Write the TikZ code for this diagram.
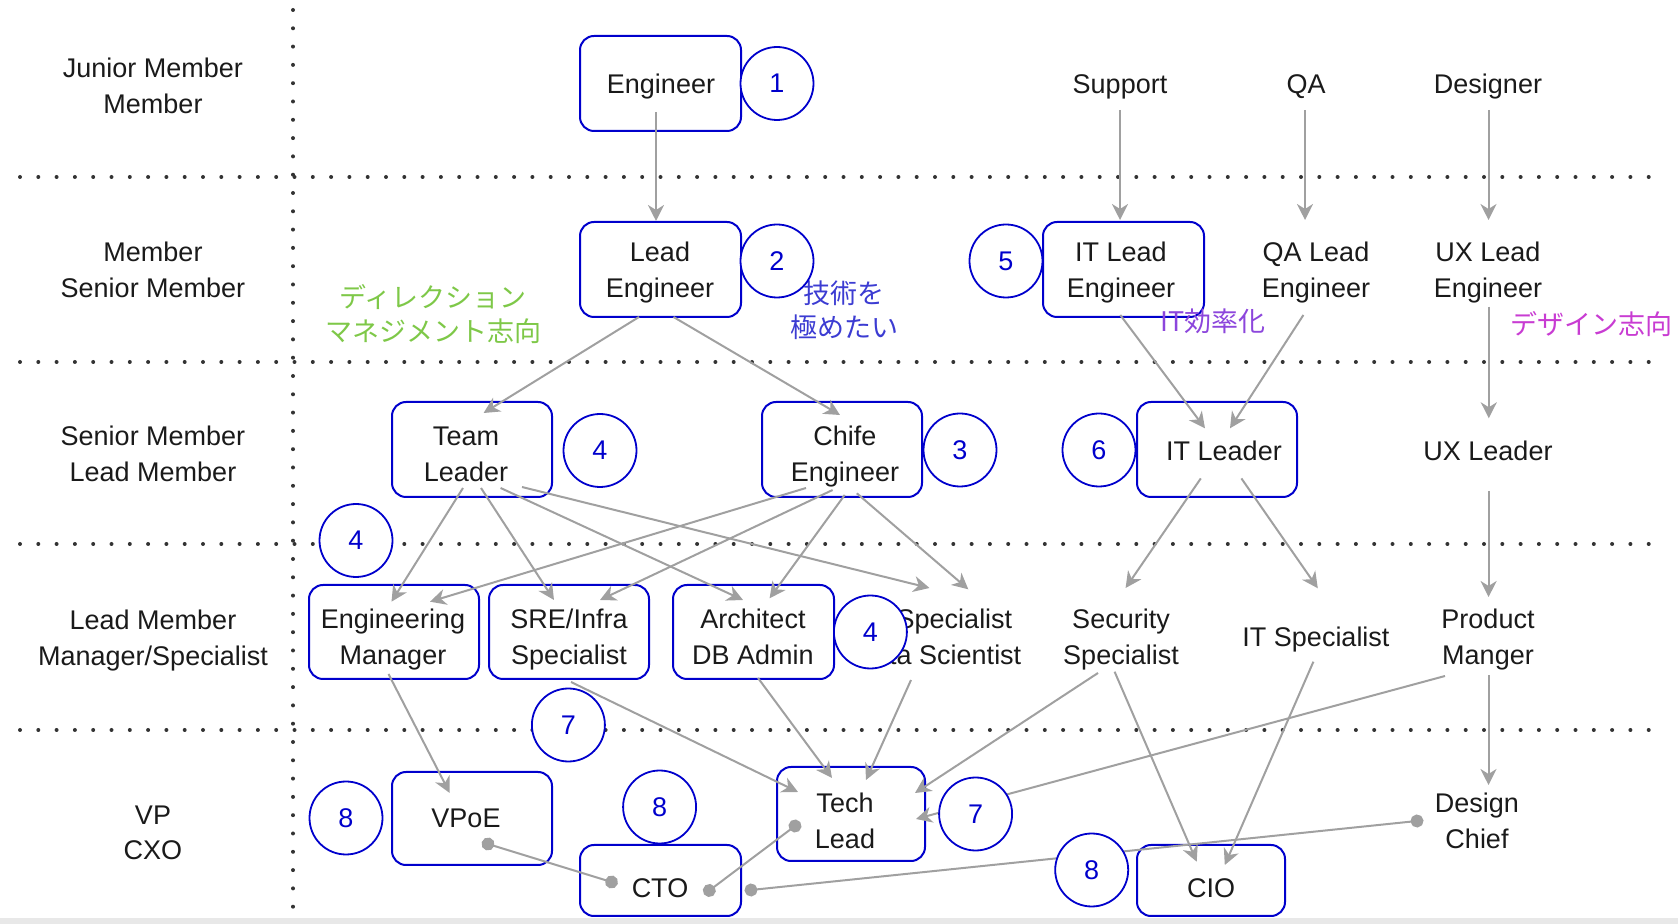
\documentclass[tikz,border=0pt]{standalone}
\usepackage{fontspec}
\setmainfont{Liberation Sans}
\newfontfamily\jp{Noto Sans CJK JP}
\usetikzlibrary{arrows.meta,calc}
\definecolor{boxblue}{RGB}{0,0,204}
\definecolor{arrgray}{RGB}{160,160,160}
\definecolor{dotgray}{RGB}{51,51,51}
\definecolor{jgreen}{RGB}{126,200,72}
\definecolor{jblue}{RGB}{60,60,210}
\definecolor{jpurple}{RGB}{140,70,220}
\definecolor{jmagenta}{RGB}{200,60,210}
\definecolor{txt}{RGB}{26,26,26}
\definecolor{band}{RGB}{232,232,232}
\newcommand{\lblstrut}{\rule[-3.2pt]{0pt}{16pt}}
\begin{document}
\begin{tikzpicture}[x=0.5pt,y=-0.5pt,
  lbl/.style={align=center,inner sep=0pt,font=\fontsize{13.5pt}{17.6pt}\selectfont,text=txt,
    execute at begin node={\lblstrut},execute at end node={\lblstrut}},
  lbltwo/.style={lbl,execute at begin node={}},
  jtext/.style={align=center,inner sep=0pt,font=\jp\fontsize{13.5pt}{17pt}\selectfont},
  bluebox/.style={rectangle,draw=boxblue,line width=1pt,rounded corners=7pt,inner sep=0pt,outer sep=0pt},
  num/.style={circle,draw=boxblue,fill=white,line width=0.9pt,minimum size=36.5pt,inner sep=0pt,text=boxblue,font=\fontsize{13.5pt}{17pt}\selectfont},
  arr/.style={draw=arrgray,line width=1pt,-{Stealth[length=8pt,width=8pt,inset=2.5pt]}},
  dotline/.style={draw=arrgray,line width=1pt,{Circle[length=6.5pt]}-{Circle[length=6.5pt]},shorten <=-3.25pt,shorten >=-3.25pt},
  sepline/.style={draw=dotgray,line width=2pt,line cap=round,dash pattern=on 0pt off 9.15pt}]
\useasboundingbox (0,0) rectangle (1678,924);
\fill[band] (0,918) rectangle (1678,924);
% separators
\draw[sepline] (20,177) -- (1660,177);
\draw[sepline] (20,362) -- (1660,362);
\draw[sepline] (20,544) -- (1660,544);
\draw[sepline] (20,730) -- (1660,730);
\draw[sepline] (293,10) -- (293,913);
% row labels
\node[lbltwo] (r1) at (153,86) {\lblstrut Junior Member\\Member};
\node[lbltwo] (r2) at (153,270) {\lblstrut Member\\Senior Member};
\node[lbltwo] (r3) at (153,454) {\lblstrut Senior Member\\Lead Member};
\node[lbltwo] (r4) at (153,638) {\lblstrut Lead Member\\Manager/Specialist};
\node[lbltwo] (r5) at (153,832) {\lblstrut VP\\CXO};
% blue boxes
\node[bluebox,minimum width=80.5pt,minimum height=47.5pt] (bEng) at (660.5,83.5) {};
\node[bluebox,minimum width=80.5pt,minimum height=47.5pt] (bLeng) at (660.5,269.5) {};
\node[bluebox,minimum width=80pt,minimum height=47.5pt] (bTl) at (472,449.5) {};
\node[bluebox,minimum width=80pt,minimum height=47.5pt] (bCe) at (842,449.5) {};
\node[bluebox,minimum width=85pt,minimum height=47pt] (bEm) at (394,632) {};
\node[bluebox,minimum width=80pt,minimum height=47pt] (bSre) at (569,632) {};
\node[bluebox,minimum width=80.5pt,minimum height=47pt] (bArch) at (753.5,632) {};
\node[bluebox,minimum width=80.5pt,minimum height=47.5pt] (bItle) at (1123.5,269.5) {};
\node[bluebox,minimum width=80pt,minimum height=47.5pt] (bItl) at (1217,449.5) {};
\node[bluebox,minimum width=80pt,minimum height=46.5pt] (bVpoe) at (472,818.5) {};
\node[bluebox,minimum width=80.5pt,minimum height=35.5pt] (bCto) at (660.5,880.5) {};
\node[bluebox,minimum width=74pt,minimum height=47pt] (bTech) at (851,814) {};
\node[bluebox,minimum width=74pt,minimum height=35.5pt] (bCio) at (1211,880.5) {};
% text nodes
\node[lbl] (eng) at (661,84) {Engineer};
\node[lbltwo] (leng) at (660,270) {\lblstrut Lead\\Engineer};
\node[lbltwo] (tl) at (466,454) {\lblstrut Team\\Leader};
\node[lbltwo] (ce) at (845,454) {\lblstrut Chife\\Engineer};
\node[lbltwo] (em) at (393,637) {\lblstrut Engineering\\Manager};
\node[lbltwo] (sre) at (569,637) {\lblstrut SRE/Infra\\Specialist};
\node[lbltwo] (arch) at (753,637) {\lblstrut Architect\\DB Admin};
\node[lbltwo] (spec) at (938,637) {\lblstrut AI Specialist\\Data Scientist};
\node[lbltwo] (sec) at (1121,637) {\lblstrut Security\\Specialist};
\node[lbl] (itspec) at (1316,637) {IT Specialist};
\node[lbltwo] (pm) at (1488,637) {\lblstrut Product\\Manger};
\node[lbl] (sup) at (1120,84) {Support};
\node[lbl] (qa) at (1306,84) {QA};
\node[lbl] (des) at (1488,84) {Designer};
\node[lbltwo] (itle) at (1121,270) {\lblstrut IT Lead\\Engineer};
\node[lbltwo] (qale) at (1316,270) {\lblstrut QA Lead\\Engineer};
\node[lbltwo] (uxle) at (1488,270) {\lblstrut UX Lead\\Engineer};
\node[lbl] (itl) at (1224,451) {IT Leader};
\node[lbl] (uxl) at (1488,451) {UX Leader};
\node[lbl] (vpoe) at (466,818) {VPoE};
\node[lbl] (cto) at (660,888) {CTO};
\node[lbltwo] (tech) at (845,821) {\lblstrut Tech\\Lead};
\node[lbltwo] (dc) at (1477,821) {\lblstrut Design\\Chief};
\node[lbl] (cio) at (1211,888) {CIO};
% japanese notes
\node[jtext,text=jgreen] (jdir) at (433,314.5) {ディレクション\\マネジメント志向};
\node[jtext,text=jblue] (jtech) at (844,310) {技術を\\極めたい};
\node[jtext,text=jpurple] (jit) at (1213,321) {IT効率化};
\node[jtext,text=jmagenta] (jdes) at (1591,324) {デザイン志向};
% arrows
\draw[arr] ($(eng)+(-5,28)$) -- ($(leng)+(-4,-49)$);
\draw[arr] ($(leng)+(-21,47)$) -- ($(tl)+(17.6,-41)$);
\draw[arr] ($(leng)+(13.5,47)$) -- ($(ce)+(-5,-39)$);
\draw[arr] ($(tl)+(-3,34)$) -- ($(em)+(-1.5,-35.3)$);
\draw[arr] ($(tl)+(15,34)$) -- ($(sre)+(-15,-37)$);
\draw[arr] ($(tl)+(34.6,34)$) -- ($(arch)+(-10,-37)$);
\draw[arr] ($(tl)+(56,33)$) -- ($(spec)+(-8.5,-49)$);
\draw[arr] ($(ce)+(-39,34)$) -- ($(em)+(37,-35.3)$);
\draw[arr] ($(ce)+(-12.4,36)$) -- ($(sre)+(31,-37)$);
\draw[arr] ($(ce)+(-0.3,41)$) -- ($(arch)+(16.6,-38.7)$);
\draw[arr] ($(ce)+(11.8,39.3)$) -- ($(spec)+(30.3,-47.7)$);
\draw[arr] ($(em)+(-4.5,37)$) -- ($(vpoe)+(-16.3,-25)$);
\draw[arr] ($(sre)+(2,45)$) -- ($(tech)+(-47,-29)$);
\draw[arr] ($(arch)+(5,41)$) -- ($(tech)+(-13,-43)$);
\draw[arr] ($(spec)+(-27,43)$) -- ($(tech)+(21,-41)$);
\draw[arr] ($(sec)+(-23,36)$) -- ($(tech)+(70,-28)$);
\draw[arr] ($(pm)+(-43,39)$) -- ($(tech)+(71,-2)$);
\draw[arr] ($(sec)+(-6.4,34.7)$) -- ($(cio)+(-14.3,-26.3)$);
\draw[arr] ($(itspec)+(-2.6,24.7)$) -- ($(cio)+(13.8,-23)$);
\draw[arr] ($(pm)+(0.5,38)$) -- ($(dc)+(11.5,-36)$);
\draw[arr] ($(sup)+(0,26)$) -- ($(itle)+(-1,-50)$);
\draw[arr] ($(qa)+(-1,26)$) -- ($(qale)+(-11,-50)$);
\draw[arr] ($(des)+(0.5,26)$) -- ($(uxle)+(0.5,-50)$);
\draw[arr] ($(itle)+(-0.7,45)$) -- ($(itl)+(-19,-22.7)$);
\draw[arr] ($(qale)+(-12.6,45)$) -- ($(itl)+(6,-22.7)$);
\draw[arr] ($(uxle)+(0.8,36.7)$) -- ($(uxl)+(0.8,-32.7)$);
\draw[arr] ($(itl)+(-23.2,27.4)$) -- ($(sec)+(4.6,-49)$);
\draw[arr] ($(itl)+(17.4,27.4)$) -- ($(itspec)+(1.8,-48.7)$);
\draw[arr] ($(uxl)+(0.6,40)$) -- ($(pm)+(0.6,-40)$);
% dot-ended lines
\draw[dotline] ($(vpoe)+(22,26)$) -- ($(cto)+(-48.5,-6)$);
\draw[dotline] ($(tech)+(-50,5)$) -- ($(cto)+(49.3,2.5)$);
\draw[dotline] ($(dc)+(-60,0)$) -- ($(cto)+(91,2)$);
% numbered circles
\node[num] (c1) at (777,83.5) {1};
\node[num] (c2) at (777,261) {2};
\node[num] (c3) at (960,450) {3};
\node[num] (c4a) at (600,450.5) {4};
\node[num] (c4b) at (356,540.5) {4};
\node[num] (c4c) at (870.4,632) {4};
\node[num] (c5) at (1006,261) {5};
\node[num] (c6) at (1099,450) {6};
\node[num] (c7a) at (568.4,725) {7};
\node[num] (c7b) at (975.6,814) {7};
\node[num] (c8a) at (346,818) {8};
\node[num] (c8b) at (659.6,807) {8};
\node[num] (c8c) at (1091.7,870) {8};
\end{tikzpicture}
\end{document}
